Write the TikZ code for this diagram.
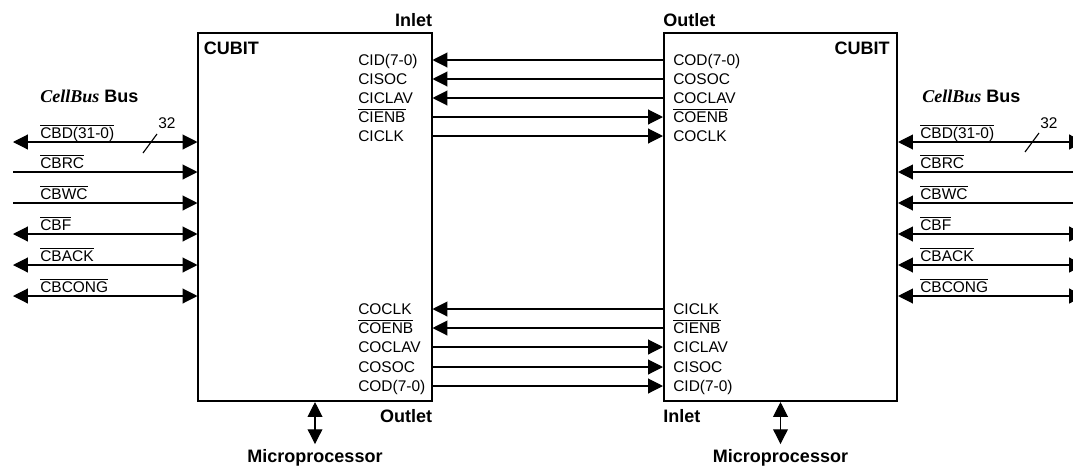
\documentclass[tikz,border=0pt]{standalone}
\usepackage{fontspec}
\setmainfont{Liberation Sans}
\newfontfamily\busserif{Liberation Serif}
\usetikzlibrary{positioning, arrows.meta}
\newsavebox{\ovlbox}
\newcommand{\ovl}[1]{\sbox{\ovlbox}{#1}\rlap{\rule[\dimexpr\ht\ovlbox+1.3pt\relax]{\wd\ovlbox}{0.7pt}}\usebox{\ovlbox}}
\newcommand{\cellbus}{{\busserif\bfseries\itshape CellBus}}

\begin{document}
\begin{tikzpicture}[
  x=0.025cm, y=-0.025cm,
  >={Triangle[length=10.5pt,width=10.5pt]},
  cubit/.style={draw,line width=1.4pt,minimum width=5.825cm,minimum height=9.2cm,inner sep=0pt},
  sig/.style={font=\fontsize{11}{13}\selectfont,inner sep=0pt,text height=8pt,text depth=0pt},
  head/.style={font=\fontsize{12.8}{15}\selectfont\bfseries,inner sep=0pt},
  wire/.style={line width=0.8pt},
]
\useasboundingbox (0,0) rectangle (1073,468);

% the two CUBIT chips
\node[cubit] (lbox) at (315,217) {};
\node[cubit] (rbox) at (780.5,217) {};

\node[head,below right=0.25cm and 0.15cm of lbox.north west] (lcubit) {CUBIT};
\node[head,below left=0.25cm and 0.2cm of rbox.north east] (rcubit) {CUBIT};
\node[head,above left=0.12cm and 0cm of lbox.north east] (linlet) {Inlet};
\node[head,above right=0.12cm and 0cm of rbox.north west] (routlet) {Outlet};
\node[head,below left=0.17cm and 0cm of lbox.south east] (loutlet) {Outlet};
\node[head,below right=0.17cm and 0cm of rbox.south west] (rinlet) {Inlet};

% inlet / outlet signals
\foreach \y/\txt [count=\i] in {60/CID(7-0), 79/CISOC, 98/CICLAV, 117/\ovl{CIENB}, 136/CICLK}
  \node[sig,anchor=west] (lin\i) at (358,\y) {\txt};
\foreach \y/\txt [count=\i] in {60/COD(7-0), 79/COSOC, 98/COCLAV, 117/\ovl{COENB}, 136/COCLK}
  \node[sig,anchor=west] (rout\i) at (673,\y) {\txt};
\foreach \y/\txt [count=\i] in {309/COCLK, 328/\ovl{COENB}, 347/COCLAV, 367/COSOC, 386/COD(7-0)}
  \node[sig,anchor=west] (lout\i) at (358,\y) {\txt};
\foreach \y/\txt [count=\i] in {309/CICLK, 328/\ovl{CIENB}, 347/CICLAV, 367/CISOC, 386/CID(7-0)}
  \node[sig,anchor=west] (rin\i) at (673,\y) {\txt};

\foreach \i/\dir in {1/<-, 2/<-, 3/<-, 4/->, 5/->}
  \draw[wire,\dir] (lbox.east |- lin\i.west) -- (rbox.west |- rout\i.west);
\foreach \i/\dir in {1/<-, 2/<-, 3/->, 4/->, 5/->}
  \draw[wire,\dir] (lbox.east |- lout\i.west) -- (rbox.west |- rin\i.west);

% CellBus on both sides
\node[head,anchor=south west] (lbus) at (40,103) {\cellbus{} Bus};
\node[head,anchor=south west] (rbus) at (922,103) {\cellbus{} Bus};

\foreach \y/\txt [count=\i] in {142/CBD(31-0), 172/CBRC, 203/CBWC, 234/CBF, 265/CBACK, 296/CBCONG} {
  \node[sig,anchor=south west] (lbl\i) at (40,\y-3) {\ovl{\txt}};
  \node[sig,anchor=south west] (rbl\i) at (920,\y-3) {\ovl{\txt}};
  \coordinate (lend\i) at (13,\y);
  \coordinate (rend\i) at (1084,\y);
}
\foreach \i/\dir in {1/<->, 2/->, 3/->, 4/<->, 5/<->, 6/<->}
  \draw[wire,\dir] (lend\i) -- (lbox.west |- lend\i);
\foreach \i/\dir in {1/<->, 2/<-, 3/<-, 4/<->, 5/<->, 6/<->}
  \draw[wire,\dir] (rbox.east |- rend\i) -- (rend\i);

% bus width marks
\node[sig,anchor=west] (lwidth) at (158,123) {32};
\node[sig,anchor=west] (rwidth) at (1040,123) {32};
\draw[wire] (143,153) -- (157,134);
\draw[wire] (1025,152) -- (1039,133);

% microprocessor ports
\node[head,below=1.17cm of lbox.south] (lmicro) {Microprocessor};
\node[head,below=1.17cm of rbox.south] (rmicro) {Microprocessor};
\draw[wire,<->] (lbox.south) -- ([yshift=0.12cm]lmicro.north);
\draw[wire,<->] (rbox.south) -- ([yshift=0.12cm]rmicro.north);

\end{tikzpicture}
\end{document}
